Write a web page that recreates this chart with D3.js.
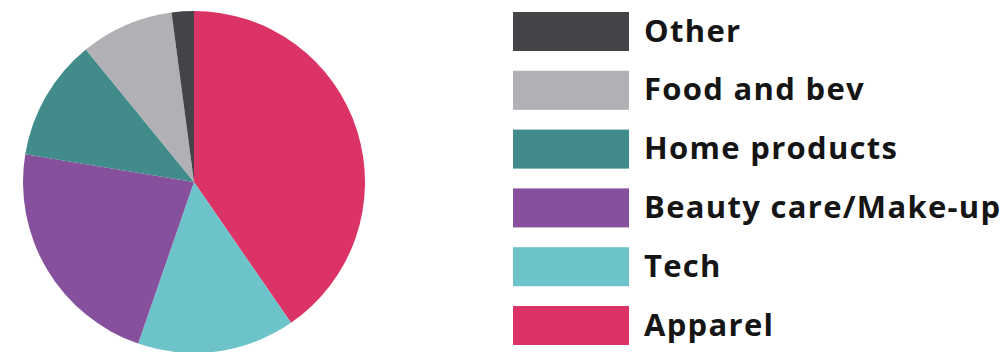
<!DOCTYPE html>
<html>
<head>
<meta charset="utf-8">
<script src="https://cdn.jsdelivr.net/npm/d3@7"></script>
<style>
  html, body { margin: 0; padding: 0; background: #fff; }
  svg { display: block; }
</style>
</head>
<body>
<svg id="chart" width="1007" height="352"></svg>
<script>
// Share of sales by category, clockwise from 12 o'clock
const categories = ["Apparel", "Tech", "Beauty care/Make-up", "Home products", "Food and bev", "Other"];
const shares     = [40.4, 14.9, 22.3, 11.5, 8.8, 2.1];
const colors     = ["#dc3366", "#6cc3c9", "#87509c", "#418b8b", "#b1b1b5", "#444448"];
// Legend lists the categories bottom-up
const legendOrder = ["Other", "Food and bev", "Home products", "Beauty care/Make-up", "Tech", "Apparel"];

const svg = d3.select("#chart");
const color = d3.scaleOrdinal().domain(categories).range(colors);

const cx = 194, cy = 182, radius = 171;
const pie = d3.pie().sort(null).value(d => d.value);
const arc = d3.arc().innerRadius(0).outerRadius(radius);
const data = categories.map((c, i) => ({ name: c, value: shares[i] }));

svg.append("g")
  .attr("transform", `translate(${cx},${cy})`)
  .selectAll("path")
  .data(pie(data))
  .join("path")
  .attr("d", arc)
  .attr("fill", d => color(d.data.name));

// Legend
const rowY = d3.scalePoint().domain(legendOrder).range([31.5, 325.5]);
const swX = 513, swW = 116, swH = 39;
const legend = svg.append("g");
const rows = legend.selectAll("g").data(legendOrder).join("g")
  .attr("transform", d => `translate(0,${rowY(d)})`);
rows.append("rect")
  .attr("x", swX).attr("y", -swH / 2)
  .attr("width", swW).attr("height", swH)
  .attr("fill", d => color(d));
rows.append("text")
  .attr("x", 644).attr("y", 10)
  .attr("font-family", "'Open Sans', sans-serif")
  .attr("font-weight", 700)
  .attr("font-size", 31)
  .attr("letter-spacing", 1.3)
  .attr("fill", "#151515")
  .text(d => d);
</script>
</body>
</html>
